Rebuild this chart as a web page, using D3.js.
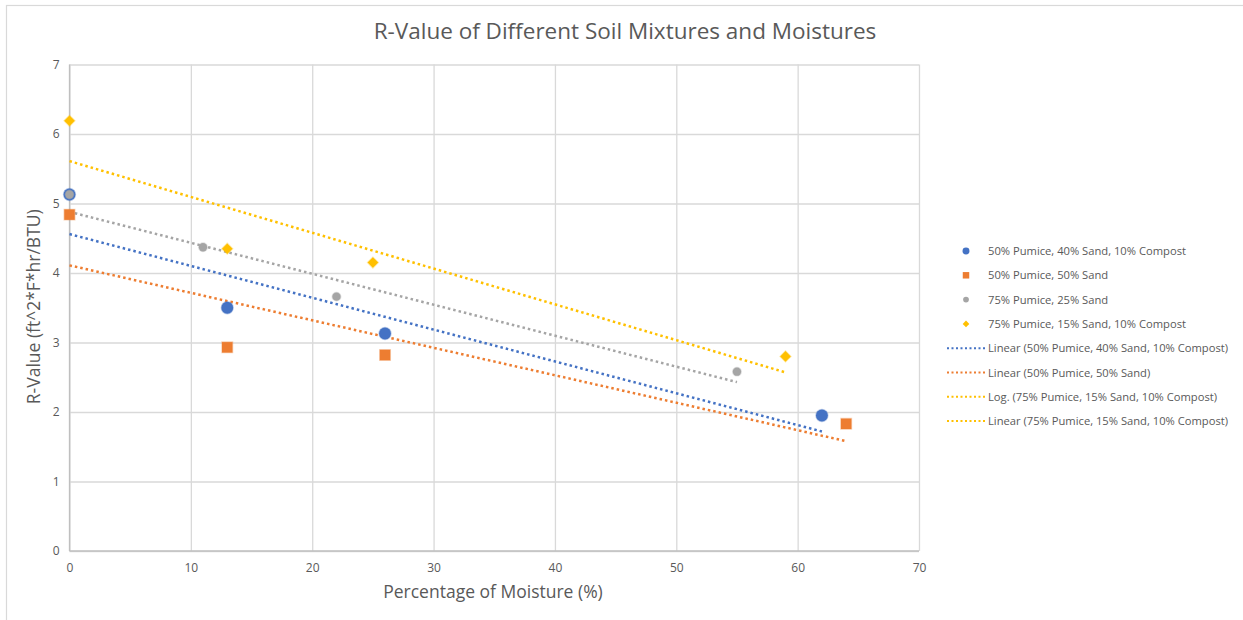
<!DOCTYPE html>
<html>
<head>
<meta charset="utf-8">
<script src="https://cdn.jsdelivr.net/npm/d3@7"></script>
<style>
  body { margin: 0; background: #fff; }
  text { font-family: "Open Sans", "Noto Sans", sans-serif; }
</style>
</head>
<body>
<script>
var canvasWidth = 1243;
var canvasHeight = 620;
var margin = { top: 64.5, right: 324, bottom: 69, left: 69.5 };

// moisture (%) and R-value readings per mixture
var blueX = [0, 13, 26, 62];
var blueY = [5.13, 3.5, 3.13, 1.95];
var orangeX = [0, 13, 26, 64];
var orangeY = [4.84, 2.93, 2.82, 1.83];
var grayX = [0, 11, 22, 55];
var grayY = [5.13, 4.37, 3.66, 2.58];
var yellowX = [0, 13, 25, 59];
var yellowY = [6.19, 4.35, 4.15, 2.8];

// trendline end points as drawn in the chart: [x0, y0, x1, y1]
var blueTrend = [0, 4.56, 62, 1.72];
var orangeTrend = [0, 4.11, 64, 1.58];
var grayTrend = [0, 4.88, 55, 2.43];
var yellowTrend = [0, 5.61, 59, 2.57];

var xTicks = [0, 10, 20, 30, 40, 50, 60, 70];
var yTicks = [0, 1, 2, 3, 4, 5, 6, 7];

var seriesNames = ["50% Pumice, 40% Sand, 10% Compost", "50% Pumice, 50% Sand",
                   "75% Pumice, 25% Sand", "75% Pumice, 15% Sand, 10% Compost"];
var trendNames = ["Linear (50% Pumice, 40% Sand, 10% Compost)", "Linear (50% Pumice, 50% Sand)",
                  "Log. (75% Pumice, 15% Sand, 10% Compost)", "Linear (75% Pumice, 15% Sand, 10% Compost)"];

var blue = "#4472C4", orange = "#ED7D31", gray = "#A5A5A5", yellow = "#FFC000";

var svg = d3.select("body").append("svg")
    .attr("width", canvasWidth)
    .attr("height", canvasHeight)

var width = canvasWidth - margin.left - margin.right;
var height = canvasHeight - margin.top - margin.bottom;

// outer chart frame (only left/top visible)
svg.append("rect")
    .attr("x", 6.5).attr("y", 5.5)
    .attr("width", 1300).attr("height", 700)
    .attr("fill", "none")
    .attr("stroke", "#d9d9d9")
    .attr("stroke-width", 1.2)

svg.append("text")
    .attr("x", 625)
    .attr("y", 39)
    .attr("text-anchor", "middle")
    .attr("font-size", "22.5px")
    .attr("fill", "#595959")
    .text("R-Value  of Different Soil Mixtures and Moistures")

var xScale = d3.scaleLinear().domain([0, 70]).range([0, width]);
var yScale = d3.scaleLinear().domain([0, 7]).range([height, 0]);

var g = svg.append("g")
    .attr("transform", "translate(" + margin.left + ", " + margin.top + ")");

// gridlines
g.append("g")
    .call(d3.axisLeft(yScale).tickValues(yTicks).tickSize(-width).tickFormat(""))
    .call(a => a.select(".domain").remove())
    .selectAll("line").attr("stroke", "#d9d9d9").attr("stroke-width", 1.3)
g.append("g")
    .attr("transform", "translate(0, " + height + ")")
    .call(d3.axisBottom(xScale).tickValues(xTicks).tickSize(-height).tickFormat(""))
    .call(a => a.select(".domain").remove())
    .selectAll("line").attr("stroke", "#d9d9d9").attr("stroke-width", 1.3)

// tick labels
var yAxis = g.append("g")
    .call(d3.axisLeft(yScale).tickValues(yTicks).tickFormat(d3.format("d")).tickSize(0).tickPadding(10))
yAxis.select(".domain").remove()
yAxis.selectAll("text").attr("fill", "#595959").attr("font-size", "12px")
    .style("font-family", "'Open Sans', sans-serif")

var xAxis = g.append("g")
    .attr("transform", "translate(0, " + height + ")")
    .call(d3.axisBottom(xScale).tickValues(xTicks).tickFormat(d3.format("d")).tickSize(0).tickPadding(12))
xAxis.select(".domain").remove()
xAxis.selectAll("text").attr("fill", "#595959").attr("font-size", "12px")
    .style("font-family", "'Open Sans', sans-serif")

// axis lines
g.append("line")
    .attr("x1", 0).attr("x2", 0).attr("y1", 0).attr("y2", height)
    .attr("stroke", "#bfbfbf").attr("stroke-width", 1.3)
g.append("line")
    .attr("x1", 0).attr("x2", width).attr("y1", height).attr("y2", height)
    .attr("stroke", "#bfbfbf").attr("stroke-width", 1.3)

svg.append("text")
    .attr("transform", "translate(40, " + (margin.top + height / 2 - 1) + ") rotate(-90)")
    .attr("text-anchor", "middle")
    .attr("font-size", "17.5px")
    .attr("fill", "#595959")
    .text("R-Value (ft^2*F*hr/BTU)")

svg.append("text")
    .attr("x", 493)
    .attr("y", 598)
    .attr("text-anchor", "middle")
    .attr("font-size", "17.5px")
    .attr("fill", "#595959")
    .text("Percentage of Moisture (%)")

// trendlines
var trends = [[blueTrend, blue], [orangeTrend, orange], [grayTrend, gray], [yellowTrend, yellow]];
trends.forEach(function(t) {
    g.append("line")
        .attr("x1", xScale(t[0][0])).attr("y1", yScale(t[0][1]))
        .attr("x2", xScale(t[0][2])).attr("y2", yScale(t[0][3]))
        .attr("stroke", t[1])
        .attr("stroke-width", 2.5)
        .attr("stroke-dasharray", "2.5,3")
})

// markers (diamond = square turned 45 degrees)
var symbols = [d3.symbolCircle, d3.symbolSquare, d3.symbolCircle, d3.symbolSquare];
var rotations = [0, 0, 0, 45];
var sizes = [110, 110, 55, 56];
var legendSizes = [38, 42, 26, 22];
var colors = [blue, orange, gray, yellow];
var xs = [blueX, orangeX, grayX, yellowX];
var ys = [blueY, orangeY, grayY, yellowY];

for (var i = 0; i < 4; i++) {
    var pts = xs[i].map((x, j) => [x, ys[i][j]]);
    var rot = rotations[i];
    g.selectAll(".s" + i).data(pts)
        .enter().append("path")
        .attr("class", "s" + i)
        .attr("transform", d => "translate(" + xScale(d[0]) + "," + yScale(d[1]) + ") rotate(" + rot + ")")
        .attr("d", d3.symbol().type(symbols[i]).size(sizes[i]))
        .attr("fill", colors[i])
        .attr("stroke", colors[i])
        .attr("stroke-opacity", 0.35)
        .attr("stroke-width", 1.5)
}

// legend
var legendY = 251, legendStep = 24.3;
for (var i = 0; i < 4; i++) {
    svg.append("path")
        .attr("transform", "translate(966," + (legendY + legendStep * i) + ") rotate(" + rotations[i] + ")")
        .attr("d", d3.symbol().type(symbols[i]).size(legendSizes[i]))
        .attr("fill", colors[i])
    svg.append("text")
        .attr("x", 988)
        .attr("y", legendY + legendStep * i + 4)
        .attr("font-size", "11.2px")
        .attr("fill", "#595959")
        .text(seriesNames[i])
}
var trendColors = [blue, orange, yellow, yellow];
for (var i = 0; i < 4; i++) {
    var yy = legendY + legendStep * (i + 4);
    svg.append("line")
        .attr("x1", 947).attr("x2", 985)
        .attr("y1", yy).attr("y2", yy)
        .attr("stroke", trendColors[i])
        .attr("stroke-width", 2)
        .attr("stroke-dasharray", "2,2.5")
    svg.append("text")
        .attr("x", 988)
        .attr("y", yy + 4)
        .attr("font-size", "11.2px")
        .attr("fill", "#595959")
        .text(trendNames[i])
}
</script>
</body>
</html>
